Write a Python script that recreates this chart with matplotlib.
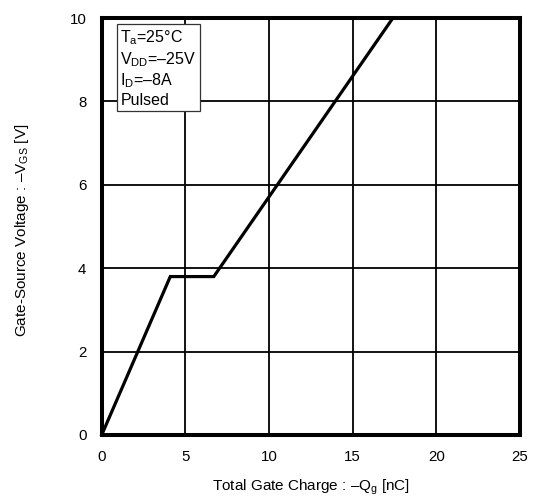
import matplotlib
matplotlib.use("Agg")
import matplotlib.pyplot as plt

plt.rcParams['font.family'] = ['Liberation Sans', 'DejaVu Sans']
plt.rcParams['mathtext.fontset'] = 'custom'
plt.rcParams['mathtext.rm'] = 'Liberation Sans'
plt.rcParams['mathtext.it'] = 'Liberation Sans:italic'

# gate charge curve
qg = [0, 4.1, 6.7, 17.4]
vgs = [0, 3.8, 3.8, 10.0]

x_ticks = [0, 5, 10, 15, 20, 25]
y_ticks = [0, 2, 4, 6, 8, 10]
conditions = ["T$_{\\mathrm{a}}$=25°C", "V$_{\\mathrm{DD}}$=–25V", "I$_{\\mathrm{D}}$=–8A", "Pulsed"]

fig = plt.figure(figsize=(5.34, 4.96), dpi=100)
ax = fig.add_axes([0.1904, 0.123, 0.7834, 0.8405])

ax.plot(qg, vgs, color='black', lw=2.3, solid_joinstyle='miter', zorder=3, clip_on=False)

ax.set_xlim(0, 25)
ax.set_ylim(0, 10)
ax.set_xticks(x_ticks)
ax.set_yticks(y_ticks)
ax.grid(True, color='black', lw=1.3)
ax.tick_params(length=0, labelsize=10.8)
ax.tick_params(axis='x', pad=11)
ax.tick_params(axis='y', pad=11)
for s in ax.spines.values():
    s.set_linewidth(2.9)
    s.set_zorder(4)

ax.set_xlabel("Total Gate Charge : –Q$_{\\mathrm{g}}$ [nC]", fontsize=11, labelpad=10)
ax.set_ylabel("Gate-Source Voltage : –V$_{\\mathrm{GS}}$ [V]", fontsize=11)
ax.yaxis.set_label_coords(-0.168, 0.49)

ax.text(0.045, 0.975, "\n".join(conditions), transform=ax.transAxes, fontsize=11.5,
        va='top', ha='left', linespacing=1.2, zorder=5,
        bbox=dict(boxstyle='square,pad=0.2', fc='white', ec='#333333', lw=0.9))

fig.savefig("out.png", dpi=100)
